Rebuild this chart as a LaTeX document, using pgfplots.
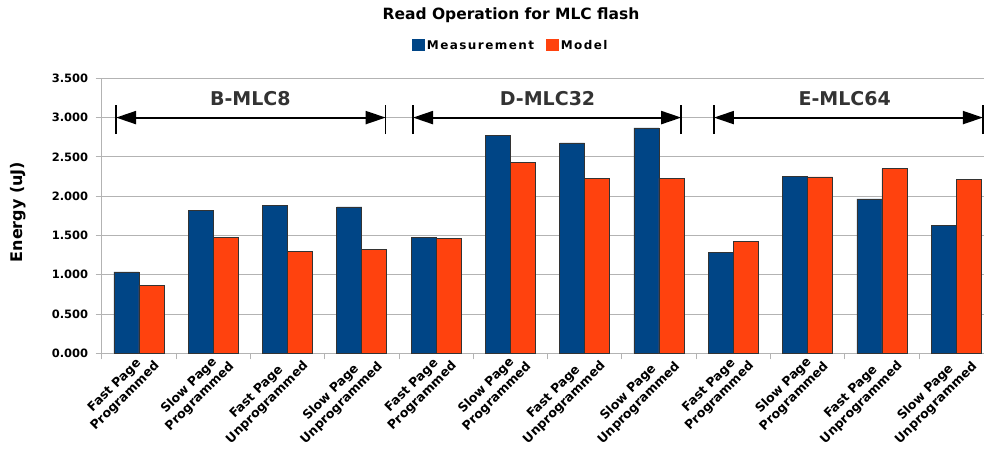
\documentclass[border=0pt]{standalone}
\usepackage{fontspec}
\setmainfont{DejaVu Sans}
\usepackage{pgfplots}
\pgfplotsset{compat=1.18}
\usetikzlibrary{arrows.meta}
\definecolor{meas}{HTML}{004586}
\definecolor{model}{HTML}{FF420E}
\definecolor{gridc}{HTML}{B3B3B3}
\definecolor{grp}{HTML}{333333}
\begin{document}
\begin{tikzpicture}
\begin{axis}[
  at={(0pt,0pt)}, anchor=south west,
  width=891.6pt, height=275pt, scale only axis,
  xmin=-0.5, xmax=11.5, ymin=0, ymax=3.5,
  ybar=0pt, bar width=25pt,
  axis lines*=left,
  axis line style={draw=gridc, line width=0.8pt},
  tick align=outside,
  major tick length=6pt,
  tick style={draw=gridc, line width=0.8pt},
  ymajorgrids, grid style={draw=gridc, line width=0.8pt},
  ytick={0,0.5,...,3.5},
  yticklabel style={xshift=-4pt, font=\bfseries\fontsize{11.5}{13}\selectfont, /pgf/number format/.cd, fixed, fixed zerofill, precision=3, assume math mode=true},
  xtick={-0.5,0.5,...,11.5},
  xticklabels={},
  extra x ticks={0,1,...,11},
  extra x tick style={major tick length=0pt},
  extra x tick labels={{Fast Page\\Programmed},{Slow Page\\Programmed},{Fast Page\\Unprogrammed},{Slow Page\\Unprogrammed},
                       {Fast Page\\Programmed},{Slow Page\\Programmed},{Fast Page\\Unprogrammed},{Slow Page\\Unprogrammed},
                       {Fast Page\\Programmed},{Slow Page\\Programmed},{Fast Page\\Unprogrammed},{Slow Page\\Unprogrammed}},
  xticklabel style={rotate=45, anchor=north east, align=center, xshift=9pt, yshift=3.5pt, font=\bfseries\fontsize{12.5}{15}\selectfont},
  legend style={at={(0.459,1.1175)}, anchor=center, draw=none, fill=none,
    legend columns=2, font=\bfseries\fontsize{12}{15}\selectfont\addfontfeatures{LetterSpace=12},
    /tikz/every even column/.append style={column sep=10pt}},
  clip=false,
]
\addplot[fill=meas, draw=black!80, line width=0.6pt,
  legend image code/.code={\fill[meas] (0pt,-4pt) rectangle (12pt,7pt);}]
  coordinates {(0,1.035) (1,1.815) (2,1.88) (3,1.862) (4,1.47) (5,2.775) (6,2.677) (7,2.868) (8,1.285) (9,2.253) (10,1.964) (11,1.624)};
\addlegendentry{Measurement}
\addplot[fill=model, draw=black!80, line width=0.6pt,
  legend image code/.code={\fill[model] (0pt,-4pt) rectangle (12pt,7pt);}]
  coordinates {(0,0.865) (1,1.47) (2,1.293) (3,1.323) (4,1.46) (5,2.43) (6,2.227) (7,2.227) (8,1.42) (9,2.244) (10,2.35) (11,2.218)};
\addlegendentry{Model}
% group arrows
\draw[line width=2pt, {Triangle[length=20pt,width=13pt]}-{Triangle[length=20pt,width=13pt]}] (axis cs:-0.307,3) -- (axis cs:3.322,3);
\draw[line width=2pt, {Triangle[length=20pt,width=13pt]}-{Triangle[length=20pt,width=13pt]}] (axis cs:3.69,3) -- (axis cs:7.30,3);
\draw[line width=2pt, {Triangle[length=20pt,width=13pt]}-{Triangle[length=20pt,width=13pt]}] (axis cs:7.74,3) -- (axis cs:11.36,3);
\draw[line width=1.5pt] (axis cs:-0.307,2.79) -- (axis cs:-0.307,3.16);
\draw[line width=1.5pt] (axis cs:3.322,2.79) -- (axis cs:3.322,3.16);
\draw[line width=1.5pt] (axis cs:3.69,2.79) -- (axis cs:3.69,3.16);
\draw[line width=1.5pt] (axis cs:7.30,2.79) -- (axis cs:7.30,3.16);
\draw[line width=1.5pt] (axis cs:7.74,2.79) -- (axis cs:7.74,3.16);
\draw[line width=1.5pt] (axis cs:11.36,2.79) -- (axis cs:11.36,3.16);
\node[font=\bfseries\fontsize{19}{22}\selectfont, text=grp] at (axis cs:1.5,3.245) {B-MLC8};
\node[font=\bfseries\fontsize{19}{22}\selectfont, text=grp] at (axis cs:5.5,3.245) {D-MLC32};
\node[font=\bfseries\fontsize{19}{22}\selectfont, text=grp] at (axis cs:9.5,3.245) {E-MLC64};
\end{axis}
\node[font=\bfseries\fontsize{15.5}{18}\selectfont] at (409.3pt,337.8pt) {Read Operation for MLC flash};
\node[rotate=90, font=\bfseries\fontsize{16}{19}\selectfont] at (-83.7pt,141.3pt) {Energy (uJ)};
\pgfresetboundingbox
\path (-101.7pt,-95.7pt) rectangle (882.3pt,353.3pt);
\end{tikzpicture}
\end{document}
